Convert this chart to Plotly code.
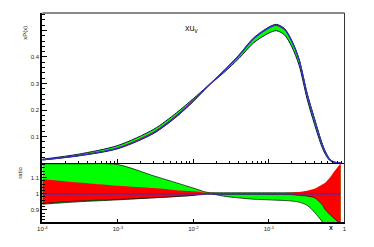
import plotly.graph_objects as go

# ---- data ----
X = [1e-4, 3e-4, 1e-3, 3e-3, 6e-3, 0.01, 0.015, 0.025, 0.04, 0.063, 0.1, 0.125,
     0.16, 0.2, 0.25, 0.32, 0.4, 0.5, 0.56, 0.63, 0.7, 0.8, 0.89]
XUV = [0.012, 0.028, 0.056, 0.115, 0.178, 0.235, 0.285, 0.345, 0.405, 0.47, 0.51, 0.52,
       0.505, 0.46, 0.39, 0.26, 0.165, 0.075, 0.04, 0.015, 0.005, 0.001, 0.0]
GREEN_UP = [1.185, 1.185, 1.18, 1.11, 1.067, 1.035, 1.009, 1.006, 1.006, 1.006, 1.006, 1.006,
            1.006, 1.006, 1.007, 1.01, 1.014, 1.03, 1.045, 1.07, 1.1, 1.14, 1.17]
GREEN_LO = [0.935, 0.95, 0.962, 0.975, 0.983, 0.99, 1.003, 0.985, 0.974, 0.966, 0.962, 0.96,
            0.958, 0.955, 0.948, 0.928, 0.885, 0.83, 0.79, 0.75, 0.72, 0.7, 0.7]
RED_UP = [1.09, 1.07, 1.05, 1.035, 1.022, 1.015, 1.006, 1.005, 1.005, 1.005, 1.005, 1.005,
          1.005, 1.006, 1.01, 1.018, 1.03, 1.055, 1.07, 1.095, 1.125, 1.16, 1.19]
RED_LO = [0.94, 0.955, 0.965, 0.975, 0.983, 0.99, 0.996, 0.996, 0.996, 0.996, 0.995, 0.995,
          0.995, 0.994, 0.99, 0.985, 0.975, 0.935, 0.9, 0.875, 0.855, 0.83, 0.8]
ONE = [1.0] * len(X)
XTICKS = [1e-4, 1e-3, 1e-2, 1e-1, 1]
XTICKTEXT = ["10<sup>-4</sup>", "10<sup>-3</sup>", "10<sup>-2</sup>", "10<sup>-1</sup>", "1"]
Y1TICKS = [0.1, 0.2, 0.3, 0.4, 0.5]
Y1TICKTEXT = ["0.1", "0.2", "0.3", "0.4", ""]
Y2TICKS = [0.9, 1.0, 1.1]
Y2TICKTEXT = ["0.9", "1", "1.1"]

GREEN = "#00ff00"
RED = "#ff0000"
BLUE = "#3333cc"

fig = go.Figure()
SM = 0.8


def band(lo, hi, color, xa, ya):
    fig.add_trace(go.Scatter(x=X, y=lo, mode="lines",
                             line=dict(width=0, color=color, shape="spline", smoothing=SM),
                             xaxis=xa, yaxis=ya, showlegend=False, hoverinfo="skip"))
    fig.add_trace(go.Scatter(x=X, y=hi, mode="lines",
                             line=dict(width=0, color=color, shape="spline", smoothing=SM),
                             fill="tonexty", fillcolor=color,
                             xaxis=xa, yaxis=ya, showlegend=False, hoverinfo="skip"))


def edge(vals, xa, ya, w=0.7, color="black"):
    fig.add_trace(go.Scatter(x=X, y=vals, mode="lines",
                             line=dict(width=w, color=color, shape="spline", smoothing=SM),
                             xaxis=xa, yaxis=ya, showlegend=False, hoverinfo="skip"))


# top panel: absolute values
g_lo = [c * r for c, r in zip(XUV, GREEN_LO)]
g_hi = [c * r for c, r in zip(XUV, GREEN_UP)]
r_lo = [c * r for c, r in zip(XUV, RED_LO)]
r_hi = [c * r for c, r in zip(XUV, RED_UP)]
band(g_lo, g_hi, GREEN, "x", "y")
band(r_lo, r_hi, RED, "x", "y")
edge(g_lo, "x", "y", 1.0, "#101040")
edge(g_hi, "x", "y", 1.0, "#101040")
edge(XUV, "x", "y", 1.3, BLUE)

# bottom panel: ratio
band(GREEN_LO, GREEN_UP, GREEN, "x2", "y2")
edge(GREEN_UP, "x2", "y2", 0.7)
edge(GREEN_LO, "x2", "y2", 0.7)
band(RED_LO, RED_UP, RED, "x2", "y2")
edge(RED_LO, "x2", "y2", 0.6)
edge(ONE, "x2", "y2", 1.6, BLUE)

W, H = 374, 247
XD = [38 / W, 346 / W]
TOPD = [1 - 163 / H, 1 - 13 / H]
BOTD = [1 - 222 / H, 1 - 163 / H]
minor_x = [k * 10 ** d for d in range(-4, 0) for k in range(2, 10)]
tickfont = dict(family="Liberation Sans, Arial, sans-serif", size=6, color="#222")

fig.update_layout(
    width=W, height=H, autosize=False,
    margin=dict(l=0, r=0, t=0, b=0),
    paper_bgcolor="white", plot_bgcolor="white",
    showlegend=False,
    xaxis=dict(domain=XD, anchor="y", type="log", range=[-4, 0],
               showgrid=False, zeroline=False, showline=True, linecolor="black", linewidth=1,
               ticks="inside", ticklen=4, tickcolor="black", tickvals=XTICKS,
               showticklabels=False,
               minor=dict(ticks="inside", ticklen=2, tickcolor="black", tickmode="array",
                          tickvals=minor_x)),
    yaxis=dict(domain=TOPD, anchor="x", range=[0, 0.566],
               showgrid=False, zeroline=False, showline=True, linecolor="black", linewidth=2,
               ticks="inside", ticklen=5, tickcolor="black",
               tickmode="array", tickvals=Y1TICKS, ticktext=Y1TICKTEXT, tickfont=tickfont,
               minor=dict(ticks="inside", ticklen=3, tickcolor="black", dtick=0.02, tick0=0)),
    xaxis2=dict(domain=XD, anchor="y2", type="log", range=[-4, 0],
                showgrid=False, zeroline=False, showline=True, linecolor="black", linewidth=2,
                ticks="inside", ticklen=3, tickcolor="black",
                tickmode="array", tickvals=XTICKS, ticktext=XTICKTEXT, tickfont=tickfont),
    yaxis2=dict(domain=BOTD, anchor="x2", range=[0.825, 1.19],
                showgrid=False, zeroline=False, showline=True, linecolor="black", linewidth=2,
                ticks="inside", ticklen=5, tickcolor="black",
                tickmode="array", tickvals=Y2TICKS, ticktext=Y2TICKTEXT, tickfont=tickfont,
                minor=dict(ticks="inside", ticklen=3, tickcolor="black", dtick=0.02, tick0=0.8)),
)

# frame: grey top, thin right border
fig.add_shape(type="line", xref="paper", yref="paper", x0=XD[0], x1=XD[1],
              y0=TOPD[1], y1=TOPD[1], line=dict(color="#888", width=2))
fig.add_shape(type="line", xref="paper", yref="paper", x0=XD[1], x1=XD[1],
              y0=BOTD[0], y1=TOPD[1], line=dict(color="#333", width=1))

lab = dict(family="Liberation Sans, Arial, sans-serif", size=6, color="#222")
fig.add_annotation(text="xu<sub>v</sub>", x=191 / W, y=1 - 21 / H, xref="paper", yref="paper",
                   showarrow=False, font=dict(family="Liberation Sans, Arial, sans-serif",
                                              size=9, color="#222"))
fig.add_annotation(text="xP(x)", x=15 / W, y=1 - 24 / H, xref="paper", yref="paper",
                   showarrow=False, textangle=-90, font=lab)
fig.add_annotation(text="ratio", x=10 / W, y=1 - 181 / H, xref="paper", yref="paper",
                   showarrow=False, textangle=-90, font=lab)
fig.add_annotation(text="<b>x</b>", x=336 / W, y=1 - 233 / H, xref="paper", yref="paper",
                   showarrow=False, font=dict(family="Liberation Sans, Arial, sans-serif",
                                              size=7, color="#222"))

fig.write_html("out.html", config={"displayModeBar": False},
               post_script="document.body.style.margin='0';")
